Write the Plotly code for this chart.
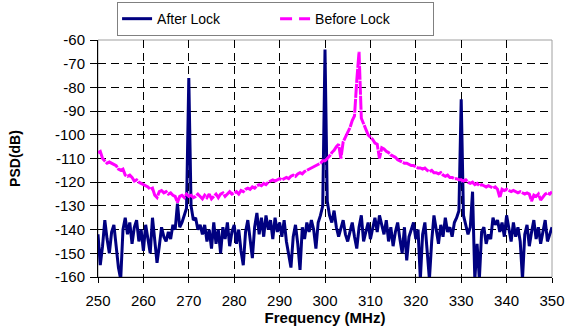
import plotly.graph_objects as go

freq = [250 + 0.5 * i for i in range(201)]

after_lock = [
    # 250 - 259.5
    -142, -155, -147, -136, -144, -150, -141, -138, -147, -156,
    -161, -140, -135, -142, -137, -146, -139, -136, -145, -140,
    # 260 - 269.5
    -149, -138, -144, -150, -135, -146, -154, -147, -139, -143,
    -145, -141, -144, -138, -140, -129, -139, -137, -134, -131,
    # 270 - 279.5
    -76, -130, -136, -135, -140, -138, -142, -138, -145, -140,
    -148, -137, -146, -140, -150, -139, -144, -137, -147, -141,
    # 280 - 289.5
    -138, -146, -140, -149, -155, -141, -136, -144, -152, -139,
    -133, -142, -135, -143, -134, -140, -136, -144, -135, -141,
    # 290 - 299.5
    -137, -143, -136, -145, -151, -156, -143, -138, -146, -157,
    -139, -144, -137, -141, -136, -140, -148, -137, -134, -130,
    # 300 - 309.5
    -64, -128, -134, -137, -132, -139, -143, -140, -136, -142,
    -145, -141, -137, -143, -148, -139, -134, -145, -141, -137,
    # 310 - 319.5
    -144, -139, -135, -141, -134, -138, -142, -136, -145, -139,
    -147, -141, -137, -144, -150, -139, -153, -143, -140, -137,
    # 320 - 329.5
    -144, -140, -161, -142, -137, -148, -161, -145, -134, -140,
    -146, -138, -143, -135, -141, -139, -143, -137, -135, -132,
    # 330 - 339.5
    -85, -134, -138, -142, -139, -124, -161, -146, -161, -141,
    -139, -146, -142, -144, -135, -138, -136, -141, -137, -143,
    # 340 - 350
    -134, -140, -145, -137, -143, -139, -145, -161, -142, -138,
    -147, -141, -136, -144, -139, -146, -140, -136, -145, -142,
    -139,
]

before_lock = [
    # 250 - 259.5
    -107.5, -107, -110, -111, -112, -111.5, -112, -112.5, -113, -114.5,
    -115, -114.5, -117, -117.5, -117, -118, -119.5, -119, -120, -120.5,
    # 260 - 269.5
    -121, -121.5, -122, -123, -122.5, -125.5, -126.5, -124, -123.5, -124.5,
    -124, -125, -124.5, -125.5, -126, -128.5, -126, -125.5, -126.5, -125,
    # 270 - 279.5
    -126, -125.5, -126.5, -126, -125, -126, -127, -125.5, -126.5, -125,
    -127, -126, -125, -126.5, -125, -124.5, -126, -125, -124, -125,
    # 280 - 289.5
    -124.5, -124, -125, -123.5, -124, -123, -122.5, -123, -122, -122.5,
    -121.5, -121, -121.5, -120.5, -121, -120, -119.5, -119, -119.5, -119,
    # 290 - 299.5
    -118.5, -119, -118.5, -118, -118.5, -117.5, -117, -117.5, -116.5, -116,
    -116.5, -115.5, -115, -114.5, -114, -113.5, -113, -112.5, -112, -111,
    # 300 - 309.5
    -111, -110, -109, -107.5, -106.5, -105, -104, -110, -103, -101,
    -99, -97, -94, -92, -77, -65, -93, -95.5, -98, -100,
    # 310 - 319.5
    -101, -102, -103.5, -104, -110, -105.5, -106, -107, -107.5, -108.5,
    -109, -109.5, -110.5, -111, -111.5, -112, -112, -112.5, -113, -113,
    # 320 - 329.5
    -113.5, -114, -114, -114.5, -114, -115, -115.5, -115, -116, -116,
    -116.5, -116, -117, -117.5, -117, -118, -118, -118.5, -118.5, -119,
    # 330 - 339.5
    -119, -119.5, -119, -120, -120.5, -120, -121, -120.5, -121.5, -121,
    -121.5, -122, -121.5, -122, -122.5, -122, -123, -126.5, -123, -123.5,
    # 340 - 350
    -123, -123.5, -124, -123.5, -124, -124.5, -124, -124.5, -125, -124.5,
    -125, -128, -125.5, -126, -125, -127.5, -126, -125, -124.5, -125,
    -124,
]

x_ticks = [250, 260, 270, 280, 290, 300, 310, 320, 330, 340, 350]
y_ticks = [-60, -70, -80, -90, -100, -110, -120, -130, -140, -150, -160]

FONT = "Liberation Sans, Arial, sans-serif"

fig = go.Figure()
fig.add_trace(go.Scatter(
    x=freq, y=after_lock, mode="lines", name="After Lock",
    line=dict(color="#000080", width=3),
))
# Plotted curve: short dashes on dense data look nearly solid (as in the source)
fig.add_trace(go.Scatter(
    x=freq, y=before_lock, mode="lines", name="Before Lock",
    line=dict(color="#FF00FF", width=3, dash="14px,1px"),
    showlegend=False, legendgroup="before",
))
# Legend entry with the visible dash pattern
fig.add_trace(go.Scatter(
    x=[None], y=[None], mode="lines", name="Before Lock",
    line=dict(color="#FF00FF", width=3, dash="12px,7px"),
    legendgroup="before",
))

fig.add_shape(type="rect", xref="paper", yref="paper", x0=0, x1=1, y0=0, y1=1,
              line=dict(color="#a0a0a0", width=1), layer="below")

fig.update_layout(
    width=570, height=331,
    margin=dict(l=98, r=18, t=40, b=54, autoexpand=False),
    paper_bgcolor="white", plot_bgcolor="white",
    font=dict(family=FONT, size=15, color="black"),
    showlegend=True,
    legend=dict(
        orientation="h", x=0.042, y=1.16, xanchor="left", yanchor="top",
        bordercolor="#808080", borderwidth=1, bgcolor="white",
        font=dict(family=FONT, size=14, color="black"),
        entrywidth=113, entrywidthmode="pixels", tracegroupgap=0,
    ),
    xaxis=dict(
        range=[250, 350], tickvals=x_ticks, ticktext=[str(v) for v in x_ticks],
        showline=True, linecolor="black", linewidth=1,
        ticks="outside", ticklen=5, tickcolor="black",
        showgrid=True, gridcolor="black", gridwidth=1, griddash="8px,5px",
        zeroline=False, automargin=False, ticklabelstandoff=5,
        title=dict(text="<b>Frequency (MHz)</b>", font=dict(family=FONT, size=15), standoff=2),
        tickfont=dict(family=FONT, size=15),
    ),
    yaxis=dict(
        range=[-160, -60], tickvals=y_ticks, ticktext=[str(v) for v in y_ticks],
        showline=True, linecolor="black", linewidth=1,
        ticks="outside", ticklen=7, tickcolor="black",
        showgrid=True, gridcolor="black", gridwidth=1, griddash="8px,5px",
        zeroline=False, ticklabelstandoff=2, automargin=False,
        title=dict(text="<b>PSD(dB)</b>", font=dict(family=FONT, size=14), standoff=31),
        tickfont=dict(family=FONT, size=15),
    ),
)

fig.write_html("out.html", config={"displayModeBar": False},
               post_script="document.body.style.margin='0';")
